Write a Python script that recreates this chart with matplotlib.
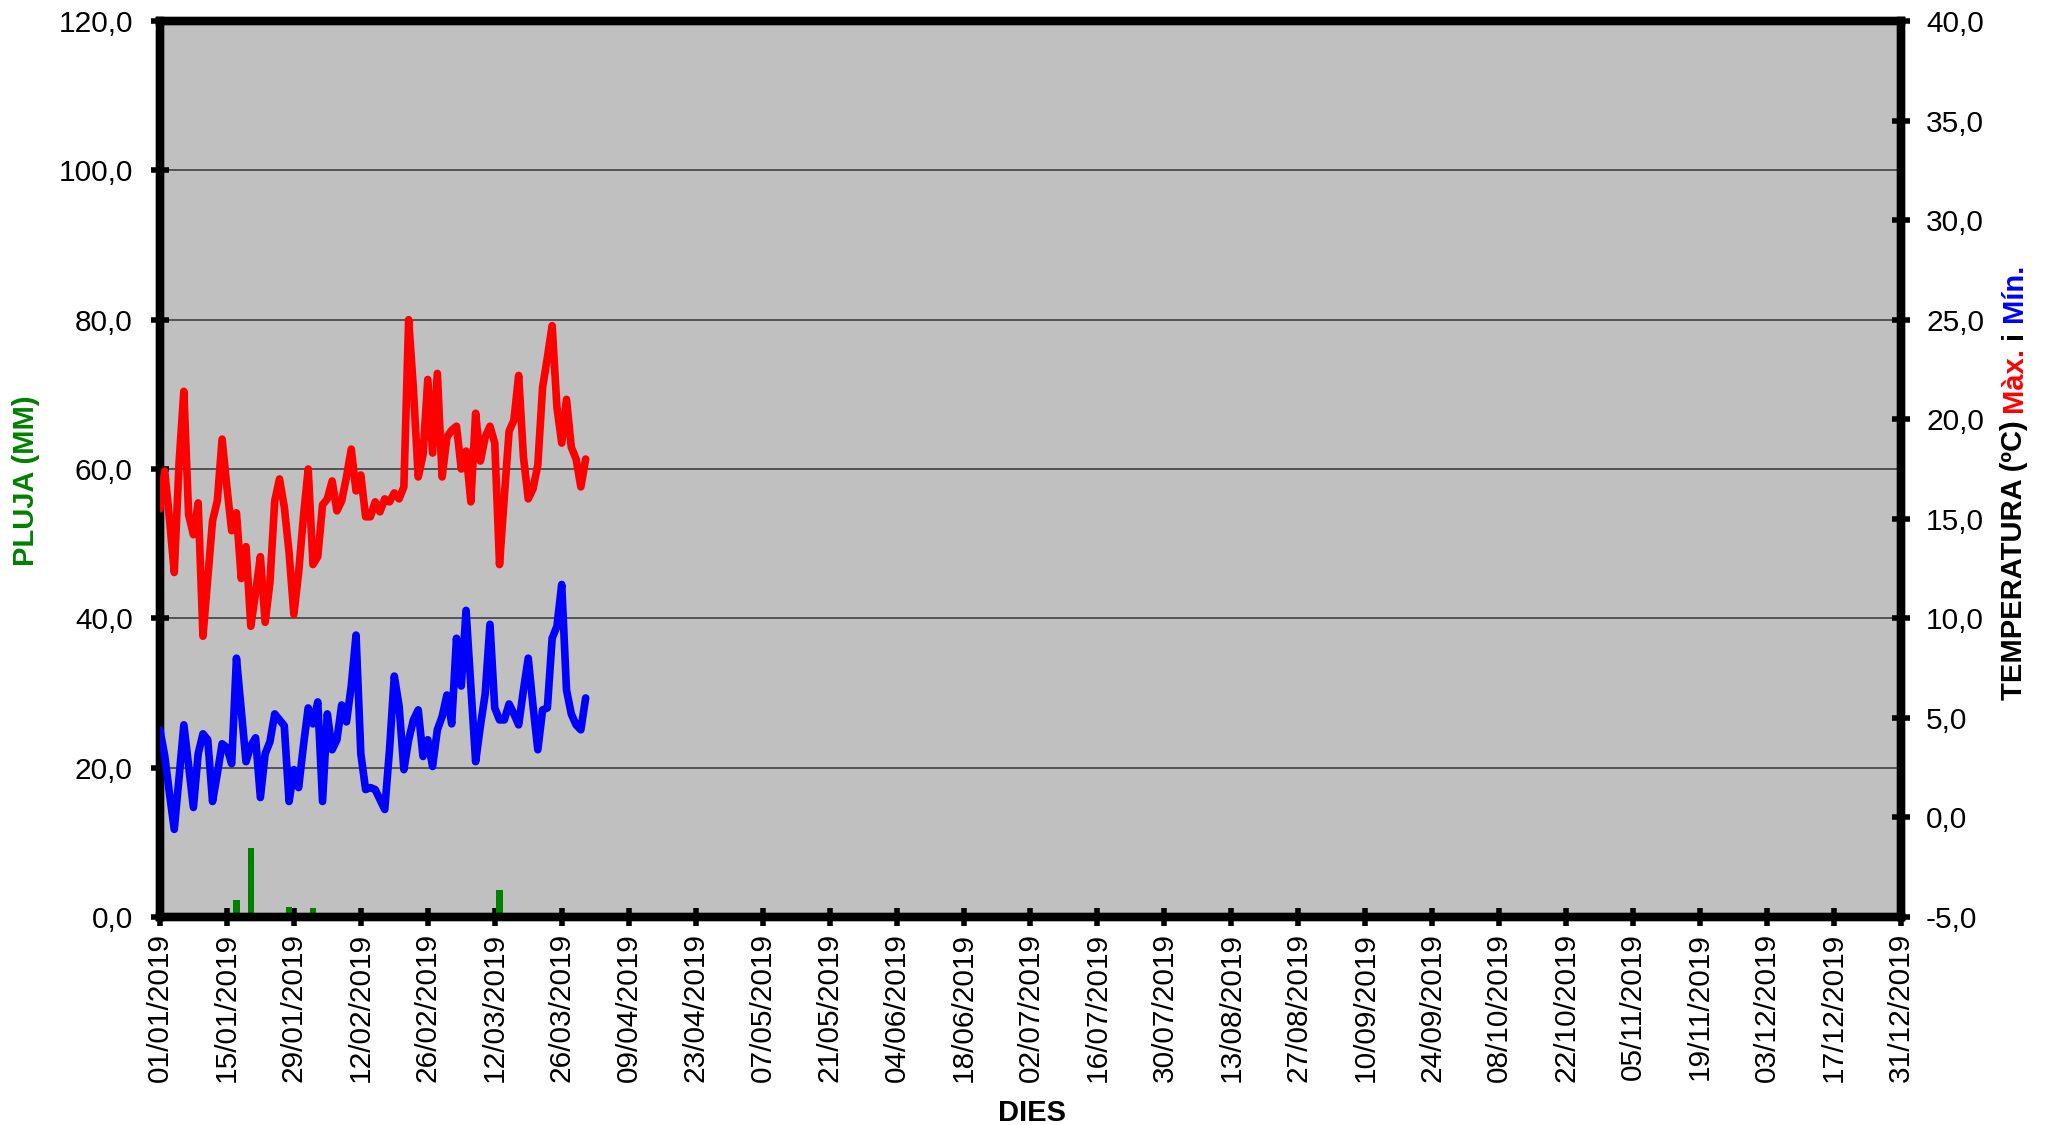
import matplotlib
matplotlib.use('Agg')
import matplotlib.pyplot as plt
import matplotlib.dates as mdates
from matplotlib.ticker import MultipleLocator, FuncFormatter
import numpy as np
import pandas as pd

plt.rcParams['font.family'] = ['Liberation Sans', 'DejaVu Sans']

# dades diàries, 01/01/2019 - 31/03/2019
dies = pd.date_range('2019-01-01', periods=90, freq='D')

t_max = [15.5, 17.4, 15.0, 12.3, 17.8, 21.4, 15.2, 14.2, 15.8, 9.1,
         12.0, 14.9, 15.9, 19.0, 16.6, 14.4, 15.3, 12.0, 13.6, 9.6,
         11.3, 13.1, 9.8, 11.8, 15.9, 17.0, 15.6, 13.3, 10.2, 12.3,
         15.1, 17.5, 12.7, 13.1, 15.7, 16.0, 16.9, 15.4, 15.9, 17.1,
         18.5, 16.4, 17.2, 15.1, 15.1, 15.85, 15.35, 16.0, 15.85, 16.3,
         16.0, 16.6, 25.0, 21.5, 17.1, 18.2, 22.0, 18.3, 22.3, 17.1,
         19.1, 19.45, 19.65, 17.5, 18.4, 15.85, 20.3, 17.9, 19.1, 19.65,
         18.8, 12.7, 16.1, 19.4, 19.95, 22.2, 18.1, 16.0, 16.5, 17.7,
         21.6, 23.1, 24.7, 20.6, 18.8, 21.0, 18.6, 18.0, 16.6, 18.0]

t_min = [4.4, 3.1, 1.2, -0.6, 2.0, 4.65, 2.6, 0.5, 3.2, 4.2,
         3.9, 0.8, 2.2, 3.7, 3.5, 2.7, 8.0, 5.4, 2.8, 3.6,
         4.0, 1.0, 3.2, 3.8, 5.2, 4.9, 4.6, 0.8, 2.4, 1.5,
         3.6, 5.5, 4.7, 5.8, 0.8, 5.2, 3.4, 3.9, 5.65, 4.8,
         6.6, 9.16, 3.2, 1.4, 1.5, 1.4, 0.9, 0.4, 3.4, 7.1,
         5.6, 2.4, 3.9, 4.9, 5.4, 3.06, 3.9, 2.56, 4.4, 5.07,
         6.15, 4.7, 9.0, 6.6, 10.4, 6.6, 2.8, 4.6, 6.2, 9.7,
         5.5, 4.9, 4.9, 5.7, 5.2, 4.65, 6.4, 8.0, 5.6, 3.4,
         5.4, 5.5, 9.0, 9.6, 11.7, 6.4, 5.2, 4.65, 4.4, 6.0]

pluja = [0, 0, 0, 0, 0, 0, 0, 0, 0, 0,
         0, 0, 0, 0, 0, 0, 2.3, 0.4, 0, 9.2,
         0, 0, 0, 0, 0, 0, 0.4, 1.4, 0, 0,
         0, 0, 1.2, 0, 0, 0.2, 0, 0, 0, 0,
         0, 0, 0, 0, 0, 0, 0, 0, 0, 0,
         0, 0, 0, 0, 0, 0, 0, 0, 0, 0,
         0, 0, 0, 0, 0.3, 0, 0, 0, 0, 0,
         0, 3.6, 0, 0, 0, 0, 0, 0, 0, 0,
         0, 0, 0, 0, 0, 0, 0, 0, 0, 0]

coma = FuncFormatter(lambda v, p: f'{v:.1f}'.replace('.', ','))

fig = plt.figure(figsize=(20.45, 11.25), dpi=100)
ax = fig.add_axes([0.0782, 0.1849, 0.9296 - 0.0782, 0.9813 - 0.1849])
ax.set_facecolor('#C0C0C0')

ax.bar(dies, pluja, width=1.3, color='#008000', zorder=2)
ax.set_ylim(0, 120)
ax.yaxis.set_major_locator(MultipleLocator(20))
ax.yaxis.set_major_formatter(coma)
ax.grid(axis='y', color='#404040', linewidth=1.2, zorder=1)
ax.set_axisbelow(True)

ax2 = ax.twinx()
ax2.plot(dies, t_max, color='#FF0000', linewidth=5.5, solid_joinstyle='round', solid_capstyle='round', zorder=3)
ax2.plot(dies, t_min, color='#0000FF', linewidth=5.5, solid_joinstyle='round', solid_capstyle='round', zorder=3)
ax2.set_ylim(-5, 40)
ax2.yaxis.set_major_locator(MultipleLocator(5))
ax2.yaxis.set_major_formatter(coma)

# eix de dates, cada 14 dies
marques = pd.date_range('2019-01-01', '2019-12-31', freq='14D')
ax.set_xlim(pd.Timestamp('2019-01-01'), pd.Timestamp('2019-12-31'))
ax.set_xticks(marques)
ax.xaxis.set_major_formatter(mdates.DateFormatter('%d/%m/%Y'))

for a in (ax, ax2):
    for s in a.spines.values():
        s.set_linewidth(6)
        s.set_color('black')

ax.tick_params(axis='y', direction='inout', length=13, width=4, labelsize=21.5, pad=13)
ax.tick_params(axis='x', direction='inout', length=13, width=4, labelsize=21.5, pad=5, labelrotation=90)
ax2.tick_params(axis='y', direction='inout', length=13, width=4, labelsize=21.5, pad=11.5)

fig.text(0.0127, 0.573, 'PLUJA (MM)', rotation=90, color='#008000', fontsize=21,
         fontweight='bold', ha='center', va='center')
fig.text(0.5046, 0.0105, 'DIES', color='black', fontsize=21, fontweight='bold',
         ha='center', va='center')

# títol de l'eix dret en diversos colors
trossos = [('TEMPERATURA (ºC)', 'black'), ('Màx.', '#FF0000'), ('i', 'black'), ('Mín.', '#0000FF')]
fig.canvas.draw()
rend = fig.canvas.get_renderer()
H = fig.get_figheight() * fig.dpi


def mida(s):
    t = fig.text(0, 0, s, fontsize=21, fontweight='bold')
    w = t.get_window_extent(rend).width
    t.remove()
    return w


espai = mida('x x') - mida('xx')
llargs = [mida(s) for s, c in trossos]
total = sum(llargs) + espai * (len(trossos) - 1)
y = (1 - 482 / 1125) * H - total / 2
for (s, c), w in zip(trossos, llargs):
    fig.text(0.985, y / H, s, rotation=90, rotation_mode='anchor', color=c,
             fontsize=21, fontweight='bold', ha='left', va='center')
    y += w + espai

fig.savefig('out.png', dpi=100)
